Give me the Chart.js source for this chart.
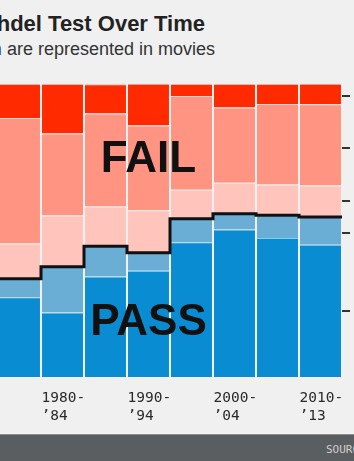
<!DOCTYPE html>
<html>
<head>
<meta charset="utf-8">
<script src="https://cdn.jsdelivr.net/npm/chart.js@4.4.1/dist/chart.umd.min.js"></script>
<style>
  html, body { margin: 0; padding: 0; background: #f0f0f0; width: 354px; height: 461px; overflow: hidden; position: relative; }
  .title { position: absolute; right: 149px; top: 13px; font: bold 22px/22px "Liberation Sans", Arial, sans-serif; color: #222; white-space: nowrap; }
  .subtitle { position: absolute; right: 139px; top: 40px; font: 18px/18px "Liberation Sans", Arial, sans-serif; color: #333; white-space: nowrap; }
  #wrap { position: absolute; left: -2px; top: 0; width: 356px; height: 447px; }
  .footer { position: absolute; left: 0; top: 434px; width: 354px; height: 27px; background: #5b5e60; border-top: 1px solid #8d8f91; box-sizing: border-box; }
  .source { position: absolute; left: 326px; top: 9px; font: 11px/11px "DejaVu Sans Mono", monospace; color: #cfcfcf; white-space: nowrap; }
</style>
</head>
<body>
<div class="title">The Bechdel Test Over Time</div>
<div class="subtitle">How women are represented in movies</div>
<div id="wrap"><canvas id="chart"></canvas></div>
<div class="footer"><div class="source">SOURCE: BECHDELTEST.COM</div></div>
<script>
// five-year buckets, shares of movies (%)
const categories = ['1975-79', '1980-84', '1985-89', '1990-94', '1995-99', '2000-04', '2005-09', '2010-13'];
const tickLabels = ['', ['1980-', '\u201984'], '', ['1990-', '\u201994'], '', ['2000-', '\u201904'], '', ['2010-', '\u201913']];

const pass     = [27.2, 22.0, 34.3, 36.3, 46.0, 50.3, 47.4, 45.1];
const dubious  = [6.3, 15.6, 10.3, 6.1, 8.0, 5.4, 7.8, 9.5];
const menOnly  = [12.1, 17.5, 13.6, 14.5, 9.9, 10.6, 10.5, 10.8];
const noTalk   = [42.8, 28.0, 31.7, 28.9, 32.0, 25.7, 27.5, 27.7];
const fewerTwo = [11.6, 16.9, 10.0, 14.3, 4.1, 8.0, 6.8, 7.0];

// pointer ticks on the right edge (legend labels are cropped off)
const legendTicks = [95.9, 78.1, 59.9, 49.0, 22.6];

const failLabelAt = 70.0;
const passLabelAt = 14.4;

// black line between passing and failing movies
const stepLine = {
    id: 'stepLine',
    afterDatasetsDraw(chart) {
        const x = chart.scales.x, y = chart.scales.y;
        const half = x.width / categories.length / 2;
        const ctx = chart.ctx;
        ctx.save();
        ctx.beginPath();
        categories.forEach(function(c, i) {
            const cx = x.getPixelForValue(i);
            const py = y.getPixelForValue(pass[i] + dubious[i]);
            if (i === 0) ctx.moveTo(cx - half, py);
            else ctx.lineTo(cx - half, py);
            ctx.lineTo(cx + half, py);
        });
        ctx.lineWidth = 3;
        ctx.strokeStyle = '#111';
        ctx.stroke();

        // FAIL / PASS
        ctx.fillStyle = '#111';
        ctx.font = 'bold 44px "Liberation Sans", Arial, sans-serif';
        ctx.textAlign = 'center';
        ctx.textBaseline = 'alphabetic';
        const lx = x.getPixelForValue(3);
        ctx.fillText('FAIL', lx, y.getPixelForValue(failLabelAt));
        ctx.fillText('PASS', lx, y.getPixelForValue(passLabelAt));
        ctx.restore();
    }
};

function barSet(label, data, fill, edge) {
    return {
        label: label,
        data: data,
        backgroundColor: fill,
        borderColor: edge,
        borderWidth: { top: 1, right: 0, bottom: 0, left: 0 },
        borderSkipped: false,
        barPercentage: 0.953,
        categoryPercentage: 1
    };
}

const ctx = document.getElementById('chart').getContext('2d');

const chart = new Chart(ctx, {
    type: 'bar',
    data: {
        labels: categories,
        datasets: [
            barSet('Passes Bechdel Test', pass, '#0a8cd2', '#86cdf0'),
            barSet('Dubious', dubious, '#6aadd5', '#a9d6ee'),
            barSet('Women only talk about men', menOnly, '#ffc5bd', '#ffe3df'),
            barSet('Women don\u2019t talk to each other', noTalk, '#ff9482', '#ffd3cb'),
            barSet('Fewer than two women', fewerTwo, '#ff2a00', '#ffb3a3')
        ]
    },
    options: {
        responsive: true,
        maintainAspectRatio: false,
        animation: false,
        layout: { padding: { top: 84, right: 4, bottom: 10, left: 0 } },
        scales: {
            x: {
                stacked: true,
                grid: { display: false, drawTicks: false },
                border: { display: false },
                ticks: {
                    autoSkip: false,
                    maxRotation: 0,
                    align: 'start',
                    labelOffset: -21,
                    padding: 12,
                    color: '#2a2a2a',
                    font: { family: '"DejaVu Sans Mono", monospace', size: 14.5, lineHeight: '18px' },
                    callback: function(value, index) { return tickLabels[index]; }
                },
                afterFit: function(scale) {
                    scale.paddingLeft = 0;
                    scale.paddingRight = 0;
                }
            },
            y: {
                stacked: true,
                position: 'right',
                min: 0,
                max: 100,
                border: { display: false },
                grid: { drawOnChartArea: false, drawTicks: true, tickLength: 8, color: '#333', lineWidth: 2 },
                ticks: { display: false },
                afterBuildTicks: function(scale) {
                    scale.ticks = legendTicks.map(function(v) { return { value: v }; });
                }
            }
        },
        plugins: {
            legend: { display: false },
            tooltip: { enabled: false }
        }
    },
    plugins: [stepLine]
});
</script>
</body>
</html>
